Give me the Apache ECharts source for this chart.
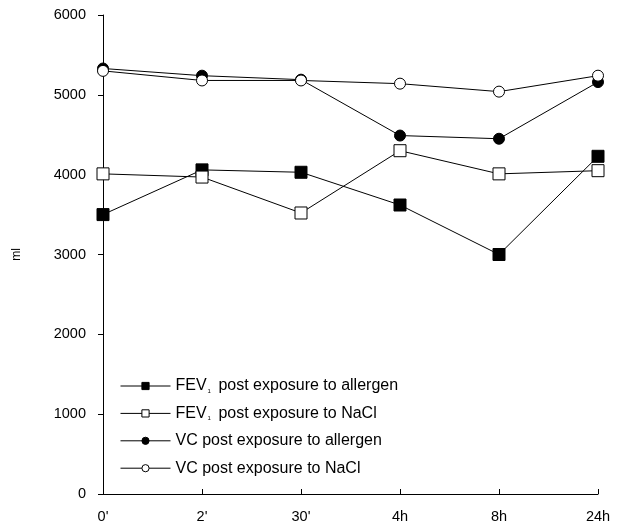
<!DOCTYPE html>
<html><head><meta charset="utf-8">
<script src="https://cdn.jsdelivr.net/npm/echarts@6/dist/echarts.min.js"></script>
<style>html,body{margin:0;padding:0;background:#fff}#c{width:625px;height:527px}</style>
</head><body><div id="c"></div>
<script>
var categories = ["0'", "2'", "30'", "4h", "8h", "24h"];
var fevAllergen = [3500, 4060, 4030, 3620, 3000, 4230];
var fevNaCl = [4010, 3970, 3520, 4300, 4010, 4050];
var vcAllergen = [5330, 5240, 5190, 4490, 4450, 5160];
var vcNaCl = [5300, 5180, 5180, 5140, 5040, 5240];
var yTicks = [0, 1000, 2000, 3000, 4000, 5000, 6000];
var names = ["FEV1 post exposure to allergen", "FEV1 post exposure to NaCl", "VC post exposure to allergen", "VC post exposure to NaCl"];

var FONT = 'Liberation Sans, Arial, sans-serif';
var chart = echarts.init(document.getElementById('c'));
function mk(name, data, symbol, filled, size) {
  return {
    name: name, type: 'line', data: data, symbol: symbol, symbolSize: size,
    showAllSymbol: true,
    lineStyle: {color: '#000', width: 1},
    itemStyle: {color: filled ? '#000' : '#fff', borderColor: '#000', borderWidth: 1},
    emphasis: {disabled: true}, animation: false
  };
}
chart.setOption({
  animation: false,
  grid: {left: 103, right: 27, top: 15, bottom: 33},
  legend: {
    orient: 'vertical', left: 120, top: 378, padding: 0,
    itemWidth: 50, itemHeight: 9, itemGap: 11.4,
    lineStyle: {width: 1, color: '#000'},
    itemStyle: {borderWidth: 1},
    data: names,
    formatter: function (n) { return n.indexOf('FEV1') === 0 ? '{t|FEV}{s|1}{t|' + n.slice(4) + '}' : '{t|' + n + '}'; },
    textStyle: {
      color: '#000', fontFamily: FONT, fontSize: 16,
      rich: {
        t: {fontSize: 16, color: '#000', fontFamily: FONT},
        s: {fontSize: 6, color: '#000', verticalAlign: 'bottom', padding: [10, 3, 0, 1], fontFamily: FONT}
      }
    }
  },
  xAxis: {
    type: 'category', data: categories, boundaryGap: false,
    axisLine: {lineStyle: {color: '#000', width: 1}},
    axisTick: {inside: true, length: 5, lineStyle: {color: '#000'}},
    axisLabel: {color: '#000', fontSize: 14.5, margin: 15, fontFamily: FONT},
    splitLine: {show: false}
  },
  yAxis: {
    type: 'value', min: 0, max: 6000, interval: 1000,
    name: 'ml', nameLocation: 'middle', nameGap: 80, nameRotate: 90,
    nameTextStyle: {color: '#000', fontSize: 12, fontFamily: FONT},
    axisLine: {show: true, lineStyle: {color: '#000', width: 1}},
    axisTick: {show: true, length: 5, lineStyle: {color: '#000'}},
    axisLabel: {color: '#000', fontSize: 14.5, margin: 17, fontFamily: FONT,
      formatter: function (v) { return yTicks.indexOf(v) >= 0 ? String(v) : ''; }},
    splitLine: {show: false}
  },
  series: [
    mk(names[0], fevAllergen, 'rect', true, 12),
    mk(names[1], fevNaCl, 'rect', false, 12),
    mk(names[2], vcAllergen, 'circle', true, 11),
    mk(names[3], vcNaCl, 'circle', false, 11)
  ]
});
</script></body></html>
